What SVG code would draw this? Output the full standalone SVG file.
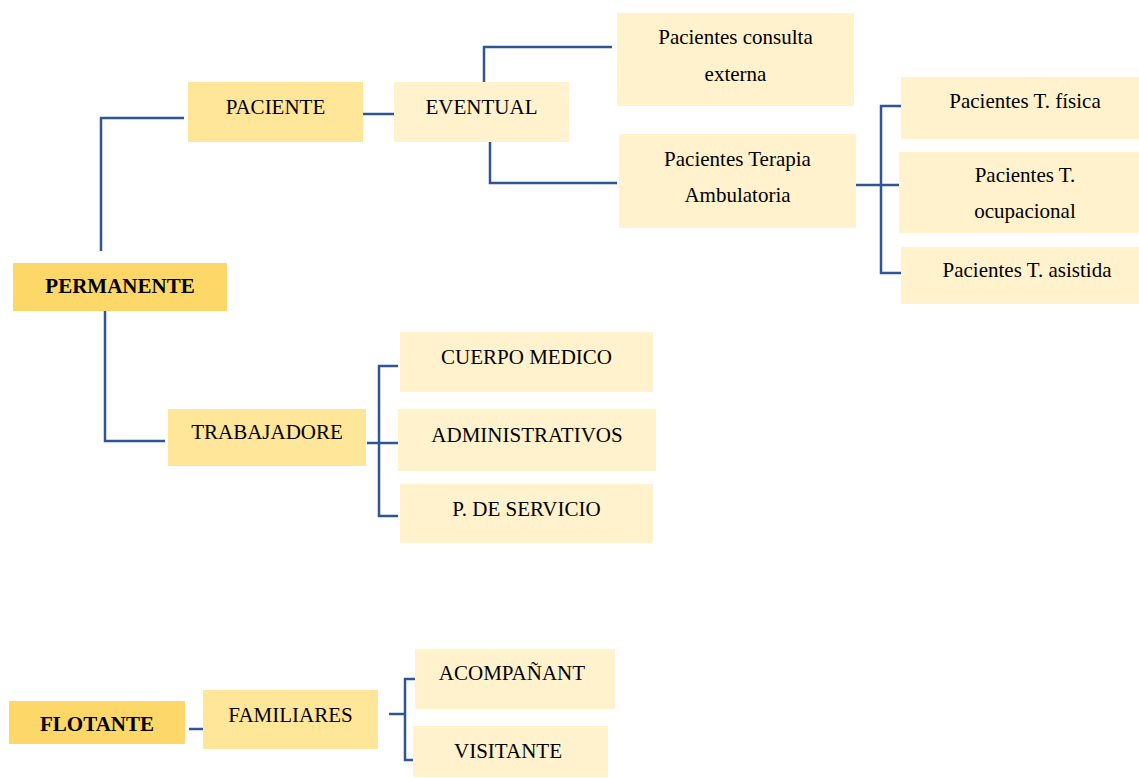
<svg xmlns="http://www.w3.org/2000/svg" width="1139" height="778" viewBox="0 0 1139 778">
<style>
.dark{fill:#FDD767}
.mid{fill:#FFE699}
.light{fill:#FFF2CC}
text{font-size:21px;fill:#000;text-anchor:middle}
.b{font-weight:bold}
#connectors path{fill:none;stroke:#2F5597;stroke-width:2.5}
</style>
<rect width="1139" height="778" fill="#fff"/>
<g id="connectors">
<path d="M101,251 V118 H184"/>
<path d="M362,114 H394"/>
<path d="M484,82 V47 H612"/>
<path d="M490,142 V183 H617"/>
<path d="M856,185 H899"/>
<path d="M908,106 H881 V273 H908"/>
<path d="M105,311 V441 H165"/>
<path d="M367,443 H399"/>
<path d="M398,366 H379 V516 H398"/>
<path d="M189,729 H203"/>
<path d="M389,714 H405"/>
<path d="M415,679 H405 V760 H415"/>
</g>
<g font-family="'Liberation Serif', 'DejaVu Serif', serif">
<g id="permanente"><rect class="dark" x="13" y="263" width="214" height="48"/><text class="b" x="120" y="293">PERMANENTE</text></g>
<g id="paciente"><rect class="mid" x="188" y="82" width="175" height="60"/><text x="275.5" y="114">PACIENTE</text></g>
<g id="eventual"><rect class="light" x="394" y="82" width="175" height="60"/><text x="481.5" y="114">EVENTUAL</text></g>
<g id="consulta"><rect class="light" x="617" y="13" width="237" height="93"/><text x="735.5" y="44">Pacientes consulta</text><text x="735.5" y="81">externa</text></g>
<g id="terapia"><rect class="light" x="619" y="134" width="237" height="94"/><text x="737.5" y="166">Pacientes Terapia</text><text x="737.5" y="202">Ambulatoria</text></g>
<g id="fisica"><rect class="light" x="901" y="77" width="238" height="62"/><text x="1025" y="108">Pacientes T. física</text></g>
<g id="ocupacional"><rect class="light" x="899" y="152" width="240" height="81"/><text x="1025" y="182">Pacientes T.</text><text x="1025" y="218">ocupacional</text></g>
<g id="asistida"><rect class="light" x="901" y="247" width="238" height="57"/><text x="1027" y="277">Pacientes T. asistida</text></g>
<g id="trabajadore"><rect class="mid" x="168" y="409" width="198" height="57"/><text x="267" y="439">TRABAJADORE</text></g>
<g id="cuerpo"><rect class="light" x="400" y="332" width="253" height="60"/><text x="526.5" y="364">CUERPO MEDICO</text></g>
<g id="admin"><rect class="light" x="398" y="409" width="258" height="62"/><text x="527" y="442">ADMINISTRATIVOS</text></g>
<g id="servicio"><rect class="light" x="400" y="484" width="253" height="59"/><text x="526.5" y="516">P. DE SERVICIO</text></g>
<g id="flotante"><rect class="dark" x="9" y="701" width="176" height="43"/><text class="b" x="97" y="731">FLOTANTE</text></g>
<g id="familiares"><rect class="mid" x="203" y="690" width="175" height="59"/><text x="290.5" y="722">FAMILIARES</text></g>
<g id="acompanant"><rect class="light" x="415" y="649" width="200" height="60"/><text x="512" y="680">ACOMPAÑANT</text></g>
<g id="visitante"><rect class="light" x="413" y="726" width="195" height="51"/><text x="508" y="758">VISITANTE</text></g>
</g>
</svg>
